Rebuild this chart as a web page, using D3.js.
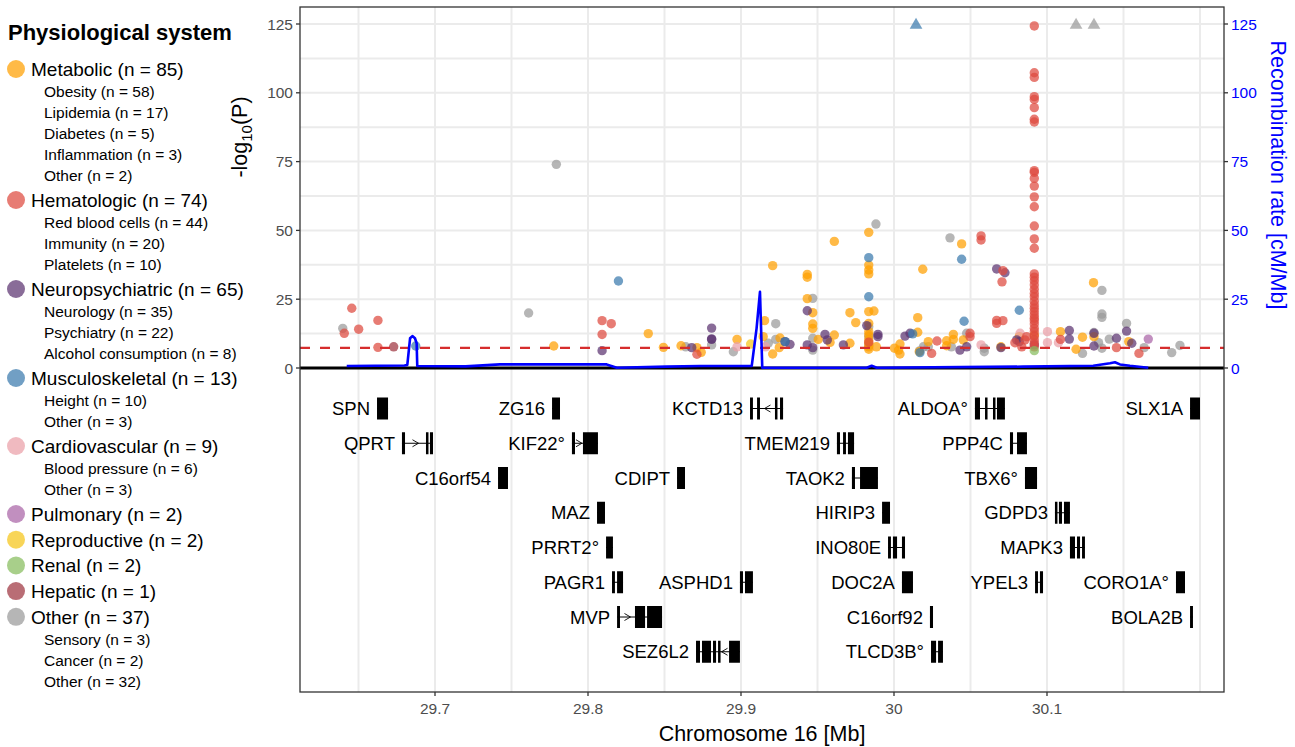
<!DOCTYPE html>
<html>
<head>
<meta charset="utf-8">
<script src="https://cdn.jsdelivr.net/npm/d3@7"></script>
<style>
body{margin:0;background:#fff}
text{font-family:"Liberation Sans",Arial,Helvetica,sans-serif}
</style>
</head>
<body>
<svg id="chart" width="1295" height="747"></svg>
<script>
// physiological systems, legend counts and sub groups
const systemNames=["Metabolic","Hematologic","Neuropsychiatric","Musculoskeletal","Cardiovascular","Pulmonary","Reproductive","Renal","Hepatic","Other"];
const systemCounts=[85,74,65,13,9,2,2,2,1,37];
const systemColors=["#FFA000","#DE4A3F","#5C3370","#3A7AAD","#EAA0A8","#A964A6","#F5C518","#86BC5D","#9E3440","#9A9A9A"];
const subgroups=[
  [["Obesity",58],["Lipidemia",17],["Diabetes",5],["Inflammation",3],["Other",2]],
  [["Red blood cells",44],["Immunity",20],["Platelets",10]],
  [["Neurology",35],["Psychiatry",22],["Alcohol consumption",8]],
  [["Height",10],["Other",3]],
  [["Blood pressure",6],["Other",3]],
  [],[],[],[],
  [["Sensory",3],["Cancer",2],["Other",32]]
];

// associations: [position Mb, -log10(P)]
const metabolic=[[29.7776,8.0],[29.8394,12.5],[29.8493,7.5],[29.8608,8.1],[29.8712,7.4],[29.8740,5.7],[29.8974,10.4],[29.9207,37.2],[29.9154,17.2],[29.9145,11.4],[29.9207,5.1],[29.9255,10.9],[29.9250,7.4],
  [29.9433,33.0],[29.9433,34.0],[29.9433,25.2],[29.9469,20.1],[29.9469,16.0],[29.9469,14.4],[29.9505,10.4],[29.9610,12.0],[29.9582,9.3],[29.9610,46.0],[29.9712,9.0],[29.9712,20.1],[29.9750,16.5],
  [29.9835,49.3],[29.9835,37.4],[29.9835,35.6],[29.9835,34.2],[29.9835,20.5],[29.9869,20.7],[29.9835,16.2],[29.9835,13.2],[29.9835,12.0],[29.9835,10.2],[29.9835,9.0],[29.9835,7.7],[29.9835,6.8],[29.9885,7.7],
  [30.0003,7.2],[30.0039,8.7],[30.0039,5.1],[30.0030,6.5],[30.0155,18.3],[30.0155,13.0],[30.0165,5.9],[30.0188,35.9],[30.0224,9.6],[30.0344,9.9],[30.0344,8.1],[30.0388,12.2],[30.0388,10.4],[30.0442,45.1],[30.0453,10.2],[30.0699,7.7],[30.0819,11.4],[30.0917,12.0],
  [30.1088,13.2],[30.1190,6.8],[30.1232,11.2],[30.1304,31.0],[30.1307,11.4],[30.1534,9.6]];
const hematologic=[[29.6407,12.6],[29.6456,21.7],[29.6501,14.1],[29.6627,17.3],[29.6627,7.5],[29.8092,17.2],[29.8152,16.1],[29.8092,12.2],[29.8712,5.0],[29.9835,9.4],
  [30.0246,5.3],[30.0281,9.8],[30.0497,12.6],[30.0497,11.4],[30.0569,48.0],[30.0569,46.5],[30.0712,35.4],[30.0706,31.3],[30.0671,16.2],[30.0671,17.3],[30.0712,17.2],[30.0856,10.2],[30.0867,11.4],[30.0835,7.7],[30.0790,9.2],
  [30.0917,124.3],[30.0917,107.3],[30.0917,105.6],[30.0917,98.6],[30.0917,97.6],[30.0917,94.6],[30.0917,90.4],[30.0917,89.4],[30.0917,71.7],[30.0917,71.1],[30.0917,68.9],[30.0917,66.1],[30.0917,62.2],[30.0917,58.6],[30.0917,51.6],[30.0917,46.9],[30.0917,43.5],
  [30.0917,34.2],[30.0917,33.0],[30.0917,31.7],[30.0917,30.2],[30.0917,28.6],[30.0917,27.1],[30.0917,25.9],[30.0917,24.3],[30.0917,22.9],[30.0917,21.7],[30.0917,20.5],[30.0917,19.3],[30.0917,18.1],[30.0917,17.2],[30.0917,16.0],[30.0917,14.4],[30.0917,13.2],[30.0917,11.6],[30.0917,10.2],[30.0917,9.0],[30.0917,7.7],
  [30.1088,10.4],[30.1454,7.4],[30.1601,5.3]];
const neuropsychiatric=[[29.8092,6.3],[29.8678,7.4],[29.8808,14.5],[29.8808,10.4],[29.8808,10.6],[29.9288,9.6],[29.9320,8.6],[29.9433,20.8],[29.9433,8.4],[29.9469,7.4],[29.9549,12.2],[29.9564,10.2],[29.9669,8.4],[29.9822,15.4],[29.9895,12.2],[29.9895,11.4],
  [30.0072,11.6],[30.0105,12.6],[30.0431,6.5],[30.0475,7.7],[30.0671,36.0],[30.0725,34.6],[30.0699,7.4],[30.0802,10.2],[30.0819,9.6],[30.0917,8.4],[30.1146,13.6],[30.1146,10.5],[30.1307,12.6],[30.1307,8.0],[30.1454,10.8],[30.1520,13.4],[30.1554,9.0]];
const musculoskeletal=[[29.6874,8.0],[29.8199,31.6],[29.9288,9.6],[29.9835,40.1],[29.9835,25.9],[30.0122,12.4],[30.0170,5.6],[30.0442,39.5],[30.0458,17.0],[30.0819,21.0]];
const cardiovascular=[[29.8974,7.7],[29.9160,7.7],[30.0569,8.4],[30.0824,12.6],[30.1003,13.2],[30.1003,9.2],[30.1075,9.2]];
const pulmonary=[[30.1662,10.5]];
const reproductive=[[29.9063,8.7]];
const renal=[[30.0917,6.3]];
const hepatic=[[29.6730,7.7]];
const otherSystem=[[29.6397,14.4],[29.7612,20.0],[29.7793,74.0],[29.8639,7.7],[29.8808,8.4],[29.8950,5.9],[29.9227,16.1],[29.9178,9.0],[29.9227,10.4],[29.9469,25.3],[29.9469,10.8],[29.9469,6.5],[29.9882,52.3],[29.9835,15.0],[29.9835,11.4],[29.9835,8.2],
  [30.0167,6.2],[30.0192,7.7],[30.0224,7.7],[30.0366,47.3],[30.0375,7.7],[30.0475,12.6],[30.0590,7.2],[30.0590,5.9],[30.1232,5.3],[30.1359,28.2],[30.1359,19.6],[30.1359,18.4],[30.1307,12.9],[30.1337,9.2],[30.1359,7.2],[30.1407,10.5],[30.1520,16.2],[30.1635,7.4],[30.1815,5.6],[30.1869,8.2]];
// associations stronger than the axis top, drawn as triangles
const beyondAxis=[[30.0144,"Musculoskeletal"],[30.1190,"Other"],[30.1307,"Other"]];

// recombination rate: [position Mb, cM/Mb]
const recombination=[[29.6423,0.7],[29.6800,0.9],[29.6819,1.1],[29.6837,10.8],[29.6852,11.6],[29.6869,10.8],[29.6880,9.0],[29.6884,0.7],[29.7200,0.6],[29.7425,1.3],[29.8122,1.3],[29.8188,0.1],
  [29.8514,0.5],[29.8732,0.7],[29.9070,0.7],[29.9102,14.5],[29.9124,27.7],[29.9139,0.1],[29.9822,0.1],[29.9854,0.8],[29.9887,0.1],[30.0843,0.5],[30.1302,0.8],[30.1412,1.7],[30.1444,2.1],[30.1477,1.3],[30.1542,0.8],[30.1662,0.1]];

const threshold=7.3;
const yTicks=[0,25,50,75,100,125];
const xTicks=[29.7,29.8,29.9,30.0,30.1];

// genes: name, track row, strand, exons [start,end] in Mb
const genes=[
  {name:"SPN",row:1,strand:"",exons:[[29.6621,29.6693]]},
  {name:"ZG16",row:1,strand:"",exons:[[29.7765,29.7817]]},
  {name:"KCTD13",row:1,strand:"-",exons:[[29.9059,29.9078],[29.9105,29.9124],[29.9222,29.9235],[29.9255,29.9275]]},
  {name:"ALDOA°",row:1,strand:"+",exons:[[30.0529,30.0562],[30.0595,30.0608],[30.0647,30.0660],[30.0673,30.0725]]},
  {name:"SLX1A",row:1,strand:"",exons:[[30.1935,30.2000]]},
  {name:"QPRT",row:2,strand:"+",exons:[[29.6784,29.6804],[29.6941,29.6954],[29.6967,29.6987]]},
  {name:"KIF22°",row:2,strand:"+",exons:[[29.7895,29.7915],[29.7967,29.8065]]},
  {name:"TMEM219",row:2,strand:"+",exons:[[29.9627,29.9647],[29.9667,29.9686],[29.9699,29.9739]]},
  {name:"PPP4C",row:2,strand:"+",exons:[[30.0758,30.0778],[30.0804,30.0869]]},
  {name:"C16orf54",row:3,strand:"",exons:[[29.7412,29.7477]]},
  {name:"CDIPT",row:3,strand:"",exons:[[29.8582,29.8634]]},
  {name:"TAOK2",row:3,strand:"+",exons:[[29.9725,29.9745],[29.9778,29.9895]]},
  {name:"TBX6°",row:3,strand:"",exons:[[30.0856,30.0935]]},
  {name:"MAZ",row:4,strand:"",exons:[[29.8059,29.8111]]},
  {name:"HIRIP3",row:4,strand:"",exons:[[29.9922,29.9974]]},
  {name:"GDPD3",row:4,strand:"-",exons:[[30.1052,30.1065],[30.1078,30.1098],[30.1111,30.1150]]},
  {name:"PRRT2°",row:5,strand:"",exons:[[29.8118,29.8163]]},
  {name:"INO80E",row:5,strand:"",exons:[[29.9961,29.9980],[29.9993,30.0020],[30.0052,30.0072]]},
  {name:"MAPK3",row:5,strand:"",exons:[[30.1150,30.1183],[30.1196,30.1216],[30.1229,30.1248]]},
  {name:"PAGR1",row:6,strand:"",exons:[[29.8157,29.8176],[29.8190,29.8229]]},
  {name:"ASPHD1",row:6,strand:"",exons:[[29.8993,29.9013],[29.9026,29.9078]]},
  {name:"DOC2A",row:6,strand:"",exons:[[30.0052,30.0124]]},
  {name:"YPEL3",row:6,strand:"",exons:[[30.0922,30.0941],[30.0954,30.0974]]},
  {name:"CORO1A°",row:6,strand:"",exons:[[30.1843,30.1902]]},
  {name:"MVP",row:7,strand:"+",exons:[[29.8190,29.8209],[29.8307,29.8373],[29.8386,29.8484]]},
  {name:"C16orf92",row:7,strand:"",exons:[[30.0235,30.0255]]},
  {name:"BOLA2B",row:7,strand:"",exons:[[30.1935,30.1954]]},
  {name:"SEZ6L2",row:8,strand:"-",exons:[[29.8706,29.8732],[29.8745,29.8804],[29.8817,29.8837],[29.8850,29.8863],[29.8922,29.8993]]},
  {name:"TLCD3B°",row:8,strand:"",exons:[[30.0242,30.0275],[30.0288,30.0320]]}
];

const svg=d3.select("#chart");
const panel={left:300,right:1224,top:7,bottom:692};
const x=d3.scaleLinear().domain([29.61176,30.21569]).range([panel.left,panel.right]);
const y=d3.scaleLinear().domain([0,125]).range([368,24]);
const rowY=d3.scaleLinear().domain([1,8]).range([408.5,651.75]);
const color=d3.scaleOrdinal().domain(systemNames).range(systemColors);
const alpha=0.72;

// grid
const grid=svg.append("g");
grid.selectAll("line.h")
  .data(d3.range(0,11).map((i)=>i*12.5))
  .enter().append("line")
    .attr("x1",panel.left).attr("x2",panel.right)
    .attr("y1",(d)=>y(d)).attr("y2",(d)=>y(d))
    .attr("stroke","#EBEBEB").attr("stroke-width",2);
grid.selectAll("line.v")
  .data(d3.range(0,12).map((i)=>29.65+i*0.05))
  .enter().append("line")
    .attr("x1",(d)=>x(d)).attr("x2",(d)=>x(d))
    .attr("y1",panel.top).attr("y2",panel.bottom)
    .attr("stroke","#EBEBEB").attr("stroke-width",2);

// zero line
svg.append("line")
  .attr("x1",panel.left).attr("x2",panel.right)
  .attr("y1",y(0)).attr("y2",y(0))
  .attr("stroke","#000").attr("stroke-width",3);

// points
const layers=[
  ["Other",otherSystem],["Metabolic",metabolic],["Cardiovascular",cardiovascular],["Pulmonary",pulmonary],
  ["Reproductive",reproductive],["Hepatic",hepatic],["Neuropsychiatric",neuropsychiatric],
  ["Musculoskeletal",musculoskeletal],["Hematologic",hematologic],["Renal",renal]
];
const pts=svg.append("g");
layers.forEach(([sys,arr])=>{
  pts.selectAll(null)
    .data(arr)
    .enter().append("circle")
      .attr("cx",(d)=>x(d[0]))
      .attr("cy",(d)=>y(d[1]))
      .attr("r",4.7)
      .attr("fill",color(sys))
      .attr("fill-opacity",alpha);
});
pts.selectAll("path.tri")
  .data(beyondAxis)
  .enter().append("path")
    .attr("d",d3.symbol().type(d3.symbolTriangle).size(70))
    .attr("transform",(d)=>`translate(${x(d[0])},${y(125)+1})`)
    .attr("fill",(d)=>color(d[1]))
    .attr("fill-opacity",alpha);

// genome-wide threshold
svg.append("line")
  .attr("x1",panel.left).attr("x2",panel.right)
  .attr("y1",y(threshold)).attr("y2",y(threshold))
  .attr("stroke","#D62D2D").attr("stroke-width",2.2)
  .attr("stroke-dasharray","10,10");

// recombination rate
svg.append("path")
  .datum(recombination)
  .attr("d",d3.line().x((d)=>x(d[0])).y((d)=>y(d[1])))
  .attr("fill","none").attr("stroke","#0000FF").attr("stroke-width",2.6)
  .attr("stroke-linejoin","round");

// gene track
const track=svg.append("g");
genes.forEach((g)=>{
  let cy=rowY(g.row);
  let s=g.exons[0][0], e=g.exons[g.exons.length-1][1];
  let gg=track.append("g");
  gg.append("line")
    .attr("x1",x(s)).attr("x2",x(e))
    .attr("y1",cy).attr("y2",cy)
    .attr("stroke","#000").attr("stroke-width",1);
  gg.selectAll("rect")
    .data(g.exons)
    .enter().append("rect")
      .attr("x",(d)=>x(d[0]))
      .attr("y",cy-11)
      .attr("width",(d)=>Math.max(2.5,x(d[1])-x(d[0])))
      .attr("height",22)
      .attr("fill","#000");
  if(g.strand){
    for(let i=0;i<g.exons.length-1;i++){
      let a=x(g.exons[i][1]), b=x(g.exons[i+1][0]);
      if(b-a<7) continue;
      let m=(a+b)/2, dir=g.strand==="+"?1:-1;
      gg.append("path")
        .attr("d",`M${m-3*dir},${cy-3.5}L${m+3*dir},${cy}L${m-3*dir},${cy+3.5}`)
        .attr("fill","none").attr("stroke","#000").attr("stroke-width",0.9);
    }
  }
  gg.append("text")
    .attr("x",x(s)-7)
    .attr("y",cy+6.6)
    .attr("text-anchor","end")
    .attr("font-size",18.5)
    .attr("fill","#000")
    .text(g.name);
});

// panel border
svg.append("rect")
  .attr("x",panel.left).attr("y",panel.top)
  .attr("width",panel.right-panel.left).attr("height",panel.bottom-panel.top)
  .attr("fill","none").attr("stroke","#333").attr("stroke-width",1.3);

// left axis
const left=svg.append("g");
yTicks.forEach((t)=>{
  left.append("line").attr("x1",panel.left-4).attr("x2",panel.left)
    .attr("y1",y(t)).attr("y2",y(t)).attr("stroke","#333").attr("stroke-width",1.3);
  left.append("text").attr("x",panel.left-7).attr("y",y(t)+5.5)
    .attr("text-anchor","end").attr("font-size",15.5).attr("fill","#4D4D4D").text(t);
});
const ylab=svg.append("text")
  .attr("transform","translate(247,137) rotate(-90)")
  .attr("text-anchor","middle").attr("font-size",21.5).attr("fill","#000");
ylab.append("tspan").text("-log");
ylab.append("tspan").attr("font-size",15).attr("dy",5).text("10");
ylab.append("tspan").attr("dy",-5).text("(P)");

// right axis
const right=svg.append("g");
yTicks.forEach((t)=>{
  right.append("line").attr("x1",panel.right).attr("x2",panel.right+4)
    .attr("y1",y(t)).attr("y2",y(t)).attr("stroke","#333").attr("stroke-width",1.3);
  right.append("text").attr("x",panel.right+7).attr("y",y(t)+5.5)
    .attr("text-anchor","start").attr("font-size",15.5).attr("fill","#0000FF").text(t);
});
svg.append("text")
  .attr("transform","translate(1271,175) rotate(90)")
  .attr("text-anchor","middle").attr("font-size",21.5).attr("fill","#0000FF")
  .text("Recombination rate [cM/Mb]");

// bottom axis
const bottom=svg.append("g");
xTicks.forEach((t)=>{
  bottom.append("line").attr("x1",x(t)).attr("x2",x(t))
    .attr("y1",panel.bottom).attr("y2",panel.bottom+4).attr("stroke","#333").attr("stroke-width",1.3);
  bottom.append("text").attr("x",x(t)).attr("y",714)
    .attr("text-anchor","middle").attr("font-size",15.5).attr("fill","#4D4D4D").text(d3.format("~g")(t));
});
svg.append("text")
  .attr("x",(panel.left+panel.right)/2).attr("y",741)
  .attr("text-anchor","middle").attr("font-size",21.5).attr("fill","#000")
  .text("Chromosome 16 [Mb]");

// legend
const legend=svg.append("g");
legend.append("text").attr("x",8).attr("y",40)
  .attr("font-size",22).attr("font-weight","bold").attr("fill","#000")
  .text("Physiological system");
let ly=69, prevSub=false;
systemNames.forEach((name,i)=>{
  if(i>0) ly+=prevSub?24.5:25.7;
  legend.append("circle").attr("cx",16).attr("cy",ly).attr("r",9)
    .attr("fill",color(name)).attr("fill-opacity",alpha);
  legend.append("text").attr("x",31).attr("y",ly+6.8)
    .attr("font-size",19).attr("fill","#000")
    .text(`${name} (n = ${systemCounts[i]})`);
  prevSub=false;
  subgroups[i].forEach((sg,j)=>{
    ly+=j===0?22.5:21;
    legend.append("text").attr("x",44).attr("y",ly+5.5)
      .attr("font-size",15.5).attr("fill","#000")
      .text(`${sg[0]} (n = ${sg[1]})`);
    prevSub=true;
  });
});
</script>
</body>
</html>
